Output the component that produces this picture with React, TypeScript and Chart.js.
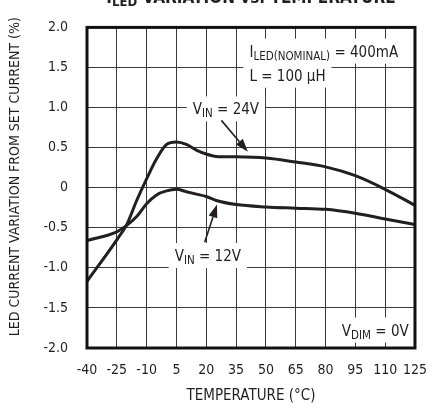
import React, { useEffect, useRef } from 'react';
import { Chart, registerables } from 'chart.js';

Chart.register(...registerables);

// ---- data ----
const temps = [-40, -25, -20, -15, -10, -5, 0, 5, 10, 15, 20, 25, 35, 50, 65, 80, 95, 110, 125];
const vin24 = [-1.17, -0.65, -0.46, -0.16, 0.11, 0.36, 0.54, 0.57, 0.54, 0.47, 0.42, 0.39, 0.385, 0.37, 0.32, 0.26, 0.15, -0.02, -0.22];
const vin12 = [-0.66, -0.55, -0.47, -0.36, -0.2, -0.09, -0.04, -0.02, -0.05, -0.08, -0.11, -0.16, -0.21, -0.24, -0.255, -0.27, -0.32, -0.39, -0.46];

const xTicks = [-40, -25, -10, 5, 20, 35, 50, 65, 80, 95, 110, 125];
const yTickLabels = ['-2.0', '-1.5', '-1.0', '-0.5', '0', '0.5', '1.0', '1.5', '2.0'];
const yTickValues = [-2, -1.5, -1, -0.5, 0, 0.5, 1, 1.5, 2];

const chartTitle: [string, boolean][] = [['I', false], ['LED', true], [' VARIATION vs. TEMPERATURE', false]];
const xTitle = 'TEMPERATURE (°C)';
const yTitle = 'LED CURRENT VARIATION FROM SET CURRENT (%)';

// annotation texts: [text, subscript]
const labels: { parts: [string, boolean][]; x: number; y: number }[] = [
  { parts: [['I', false], ['LED(NOMINAL)', true], [' = 400mA', false]], x: 41.7, y: 1.71 },
  { parts: [['L = 100 ', false], ['\u03BC', false], ['H', false]], x: 41.7, y: 1.41 },
  { parts: [['V', false], ['IN', true], [' = 24V', false]], x: 13.2, y: 0.99 },
  { parts: [['V', false], ['IN', true], [' = 12V', false]], x: 4.1, y: -0.84 },
  { parts: [['V', false], ['DIM', true], [' = 0V', false]], x: 88.2, y: -1.77 },
];
const arrows: { from: [number, number]; to: [number, number] }[] = [
  { from: [27.6, 0.84], to: [40.9, 0.45] },
  { from: [19.2, -0.68], to: [25.4, -0.21] },
];

const FONT = "'Liberation Sans Narrow', 'Arial Narrow', 'DejaVu Sans Condensed', sans-serif";
const INK = '#231f20';
const MAIN = 15;
const SUB = 11.5;

function richWidth(ctx: CanvasRenderingContext2D, parts: [string, boolean][], size: number, subSize: number, weight = '') {
  let w = 0;
  for (const [t, sub] of parts) {
    ctx.font = `${weight} ${sub ? subSize : size}px ${FONT}`;
    w += ctx.measureText(t).width;
  }
  return w;
}

function drawRich(ctx: CanvasRenderingContext2D, parts: [string, boolean][], x: number, baseline: number, size: number, subSize: number, subDrop: number, weight = '') {
  let cx = x;
  ctx.textBaseline = 'alphabetic';
  ctx.textAlign = 'left';
  for (const [t, sub] of parts) {
    ctx.font = `${weight} ${sub ? subSize : size}px ${FONT}`;
    ctx.fillText(t, cx, sub ? baseline + subDrop : baseline);
    cx += ctx.measureText(t).width;
  }
}

const overlay = {
  id: 'overlay',
  beforeDatasetsDraw(chart: any) {
    const ctx = chart.ctx as CanvasRenderingContext2D;
    const xs = chart.scales.x, ys = chart.scales.y;
    ctx.save();
    ctx.fillStyle = '#ffffff';
    for (const l of labels) {
      const px = xs.getPixelForValue(l.x);
      const py = ys.getPixelForValue(l.y);
      const w = richWidth(ctx, l.parts, MAIN, SUB);
      ctx.fillRect(px - 6, py - 12, w + 12, 25);
    }
    ctx.restore();
  },
  afterDatasetsDraw(chart: any) {
    const ctx = chart.ctx as CanvasRenderingContext2D;
    const xs = chart.scales.x, ys = chart.scales.y;
    const a = chart.chartArea;
    ctx.save();
    ctx.fillStyle = INK;
    for (const l of labels) {
      const px = xs.getPixelForValue(l.x);
      const py = ys.getPixelForValue(l.y);
      drawRich(ctx, l.parts, px, py + 6, MAIN, SUB, 3);
    }
    ctx.strokeStyle = INK;
    ctx.lineWidth = 1.6;
    for (const ar of arrows) {
      const x1 = xs.getPixelForValue(ar.from[0]), y1 = ys.getPixelForValue(ar.from[1]);
      const x2 = xs.getPixelForValue(ar.to[0]), y2 = ys.getPixelForValue(ar.to[1]);
      const ang = Math.atan2(y2 - y1, x2 - x1);
      const hl = 13, hw = 4.5;
      const bx = x2 - hl * Math.cos(ang), by = y2 - hl * Math.sin(ang);
      ctx.beginPath();
      ctx.moveTo(x1, y1);
      ctx.lineTo(bx, by);
      ctx.stroke();
      ctx.beginPath();
      ctx.moveTo(x2, y2);
      ctx.lineTo(bx + hw * Math.sin(ang), by - hw * Math.cos(ang));
      ctx.lineTo(bx - hw * Math.sin(ang), by + hw * Math.cos(ang));
      ctx.closePath();
      ctx.fill();
    }
    // frame
    ctx.lineWidth = 3;
    ctx.strokeStyle = '#111';
    ctx.strokeRect(a.left, a.top, a.right - a.left, a.bottom - a.top);
    ctx.restore();
  },
  afterDraw(chart: any) {
    const ctx = chart.ctx as CanvasRenderingContext2D;
    const a = chart.chartArea;
    ctx.save();
    ctx.fillStyle = INK;
    // clipped title
    const tw = richWidth(ctx, chartTitle, 17, 13, 'bold');
    drawRich(ctx, chartTitle, (a.left + a.right) / 2 - tw / 2, 3, 17, 13, 3, 'bold');
    // y title
    ctx.translate(15, (a.top + a.bottom) / 2 - 11);
    ctx.rotate(-Math.PI / 2);
    ctx.font = `14px ${FONT}`;
    ctx.textAlign = 'center';
    ctx.textBaseline = 'middle';
    ctx.fillText(yTitle, 0, 0);
    ctx.restore();
  },
};

export default function App() {
  const ref = useRef<HTMLCanvasElement | null>(null);
  useEffect(() => {
    if (!ref.current) return;
    const chart = new Chart(ref.current, {
      type: 'line',
      data: {
        datasets: [
          {
            label: 'VIN = 24V',
            data: temps.map((t, i) => ({ x: t, y: vin24[i] })),
            borderColor: INK,
            borderWidth: 3,
            pointRadius: 0,
            cubicInterpolationMode: 'monotone',
            fill: false,
          },
          {
            label: 'VIN = 12V',
            data: temps.map((t, i) => ({ x: t, y: vin12[i] })),
            borderColor: INK,
            borderWidth: 3,
            pointRadius: 0,
            cubicInterpolationMode: 'monotone',
            fill: false,
          },
        ],
      },
      options: {
        animation: false,
        responsive: false,
        devicePixelRatio: 1,
        layout: { padding: { top: 20, right: 25, left: 0, bottom: 0 } },
        plugins: { legend: { display: false }, tooltip: { enabled: false }, title: { display: false } },
        scales: {
          x: {
            type: 'linear',
            min: -40,
            max: 125,
            afterBuildTicks: (s: any) => { s.ticks = xTicks.map((v) => ({ value: v })); },
            afterFit: (s: any) => { s.height = 60; },
            ticks: {
              color: INK,
              font: { family: FONT, size: 14 },
              padding: 14,
              maxRotation: 0,
              autoSkip: false,
              callback: (v: any) => String(v),
            },
            grid: { color: '#3a3a3a', lineWidth: 1, drawTicks: false },
            border: { display: false },
            title: { display: true, text: xTitle, color: INK, font: { family: FONT, size: 15 }, padding: { top: 0, bottom: 3 } },
          },
          y: {
            type: 'linear',
            min: -2,
            max: 2,
            afterBuildTicks: (s: any) => { s.ticks = yTickValues.map((v) => ({ value: v })); },
            afterFit: (s: any) => { s.width = 87; },
            ticks: {
              color: INK,
              font: { family: FONT, size: 14 },
              padding: 19,
              autoSkip: false,
              callback: (_v: any, i: number) => yTickLabels[i],
            },
            grid: { color: '#3a3a3a', lineWidth: 1, drawTicks: false },
            border: { display: false },
          },
        },
      },
      plugins: [overlay],
    } as any);
    return () => chart.destroy();
  }, []);
  return (
    <div style={{ position: 'absolute', left: 0, top: 0, width: 441, height: 408, background: '#fff' }}>
      <canvas ref={ref} width={441} height={408} style={{ display: 'block' }} />
    </div>
  );
}
